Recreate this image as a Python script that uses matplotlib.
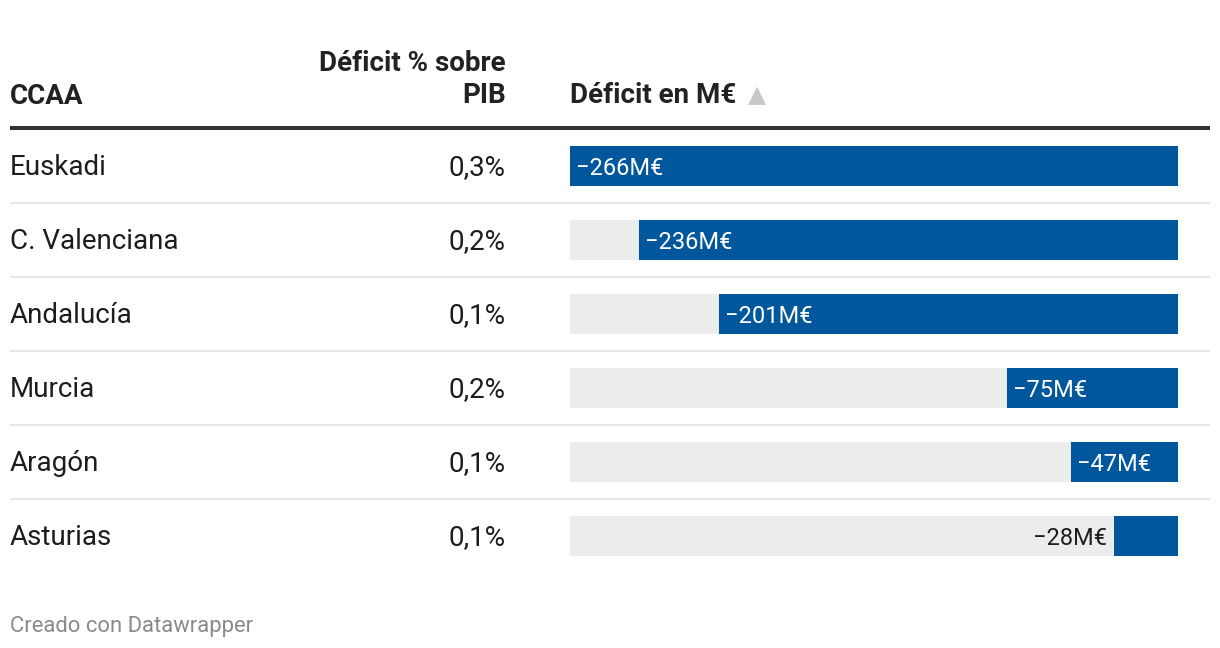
import matplotlib.pyplot as plt

plt.rcParams['font.family'] = ['Roboto', 'DejaVu Sans']

# data
regions = ["Euskadi", "C. Valenciana", "Andalucía", "Murcia", "Aragón", "Asturias"]
pct_pib = ["0,3%", "0,2%", "0,1%", "0,2%", "0,1%", "0,1%"]
deficit = [-266, -236, -201, -75, -47, -28]

blue = "#01579b"
bg_gray = "#ececec"
text_col = "#1d1d1d"

W, H = 1220, 648
fig = plt.figure(figsize=(W / 100, H / 100), dpi=100)

# overlay axes in pixel units for the table layout
ax = fig.add_axes([0, 0, 1, 1])
ax.set_xlim(0, W)
ax.set_ylim(H, 0)
ax.axis("off")

# header
hdr = dict(fontsize=20, fontweight="bold", color="#222222", va="baseline")
ax.text(10, 104, "CCAA", **hdr)
ax.text(506, 71, "Déficit % sobre", ha="right", **hdr)
ax.text(506, 103, "PIB", ha="right", **hdr)
ax.text(570, 103, "Déficit en M€", **hdr)
ax.text(748, 102, "▲", fontsize=17, color="#c8c8c8", va="baseline",
        family="DejaVu Sans")
ax.plot([10, 1210], [128, 128], color="#333333", lw=2.9, solid_capstyle="butt")

# rows
row_top = 129
row_h = 74
for i, (reg, p) in enumerate(zip(regions, pct_pib)):
    yc = row_top + row_h * (i + 0.5)
    ax.text(10, yc + 9, reg, fontsize=20, color=text_col, va="baseline")
    ax.text(506, yc + 9, p, fontsize=20, color=text_col, va="baseline", ha="right")
    if i < len(regions) - 1:
        ax.plot([10, 1210], [row_top + row_h * (i + 1)] * 2, color="#e6e6e6",
                lw=1.5, solid_capstyle="butt")

# footer
ax.text(10, 632, "Creado con Datawrapper", fontsize=15.8, color="#8a8a8a", va="baseline")

# bars
bax = fig.add_axes([570 / W, 1 - (row_top + row_h * 6) / H, 608 / W, row_h * 6 / H])
bax.set_xlim(min(deficit), 0)
bax.set_ylim(len(regions) - 0.5, -0.5)
bax.axis("off")
ypos = list(range(len(regions)))
bax.barh(ypos, [min(deficit)] * len(regions), height=40 / row_h, color=bg_gray)
bax.barh(ypos, deficit, height=40 / row_h, color=blue)

for i, v in enumerate(deficit):
    lab = f"\u2212{abs(v)}M€"
    if abs(v) / abs(min(deficit)) > 0.15:
        bax.annotate(lab, (v, i), xytext=(4.5, -6.3), textcoords="offset points",
                     color="white", fontsize=17, va="baseline", ha="left")
    else:
        bax.annotate(lab, (v, i), xytext=(-5, -6.3), textcoords="offset points",
                     color=text_col, fontsize=17, va="baseline", ha="right")

fig.savefig("out.png", dpi=100)
